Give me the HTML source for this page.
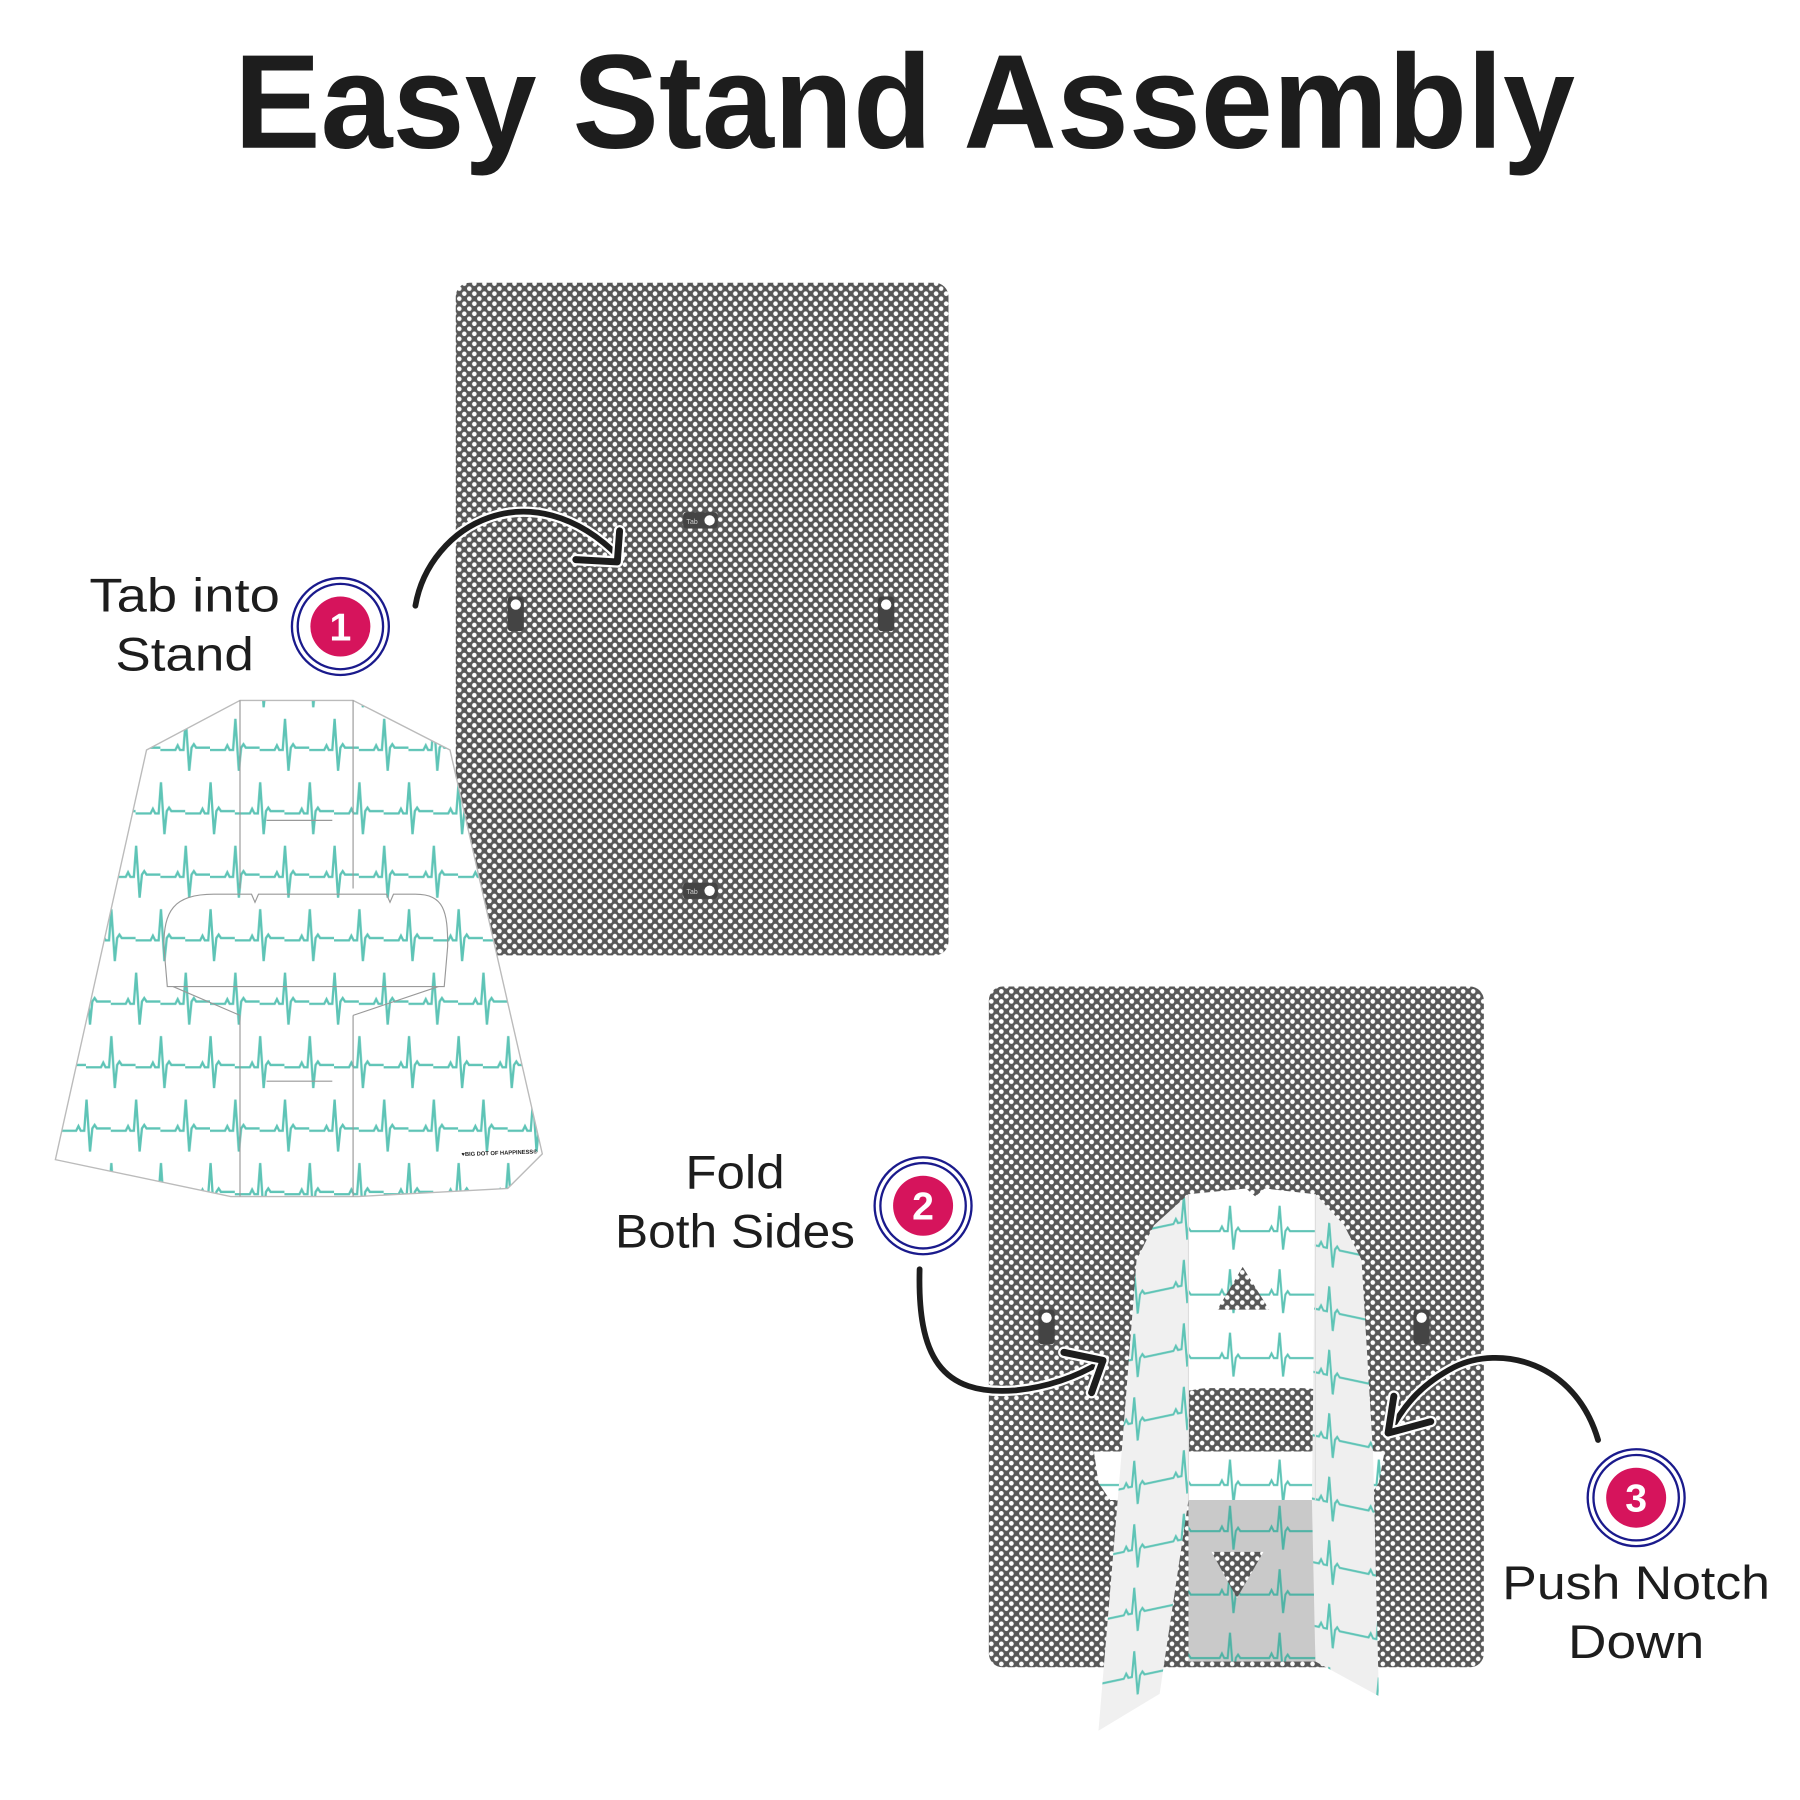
<!DOCTYPE html>
<html><head><meta charset="utf-8"><style>html,body{margin:0;padding:0;background:#fff}svg{display:block}</style></head>
<body>
<svg width="1800" height="1800" viewBox="0 0 1560 1560" xmlns="http://www.w3.org/2000/svg">
<defs>
<pattern id="dots" width="8.7" height="8.7" patternUnits="userSpaceOnUse">
<rect width="8.7" height="8.7" fill="#585858"/>
<circle cx="2.2" cy="2.2" r="2.0" fill="#fff"/>
<circle cx="6.55" cy="6.55" r="2.0" fill="#fff"/>
</pattern>
<pattern id="ecg" width="43" height="110" patternUnits="userSpaceOnUse" x="10" y="620">
<rect width="43" height="110" fill="#fff"/>
<path id="beat" d="M0 30 H13 l2 -4 l2 4 h3 l2 -27 l3 45 l2 -20 l2 -3 l2 3 H43" fill="none" stroke="#5ec4b6" stroke-width="2"/>
<use href="#beat" transform="translate(21.5 55)"/>
<use href="#beat" transform="translate(-21.5 55)"/>
</pattern>
<pattern id="ecg2" width="43" height="55" patternUnits="userSpaceOnUse" x="960" y="1030" patternTransform="skewY(-12)">
<rect width="43" height="55" fill="#f0f0f0"/>
<path d="M0 27 H14 l2 -4 l2 4 h3 l2 -22 l3 38 l2 -16 l2 -3 l2 3 H43" fill="none" stroke="#5ec4b6" stroke-width="1.8"/>
</pattern>
<pattern id="ecg3" width="43" height="55" patternUnits="userSpaceOnUse" x="1000" y="1030" patternTransform="skewY(12)">
<rect width="43" height="55" fill="#efefef"/>
<path d="M0 27 H14 l2 -4 l2 4 h3 l2 -22 l3 38 l2 -16 l2 -3 l2 3 H43" fill="none" stroke="#5ec4b6" stroke-width="1.8"/>
</pattern>
<pattern id="ecg4" width="43" height="55" patternUnits="userSpaceOnUse" x="1000" y="1040">
<rect width="43" height="55" fill="#fff"/>
<path d="M0 27 H14 l2 -4 l2 4 h3 l2 -22 l3 38 l2 -16 l2 -3 l2 3 H43" fill="none" stroke="#5ec4b6" stroke-width="1.8"/>
</pattern>
<pattern id="ecg5" width="43" height="55" patternUnits="userSpaceOnUse" x="1000" y="1300">
<rect width="43" height="55" fill="#c9c9c9"/>
<path d="M0 27 H14 l2 -4 l2 4 h3 l2 -22 l3 38 l2 -16 l2 -3 l2 3 H43" fill="none" stroke="#4fb3a5" stroke-width="1.8"/>
</pattern>
</defs>

<text x="203" y="128" font-family="Liberation Sans, sans-serif" font-weight="700" font-size="116" fill="#1d1d1d" textLength="1162" lengthAdjust="spacingAndGlyphs">Easy Stand Assembly</text>

<!-- top board -->
<rect x="395" y="245" width="427" height="583" rx="12" fill="url(#dots)"/>
<g font-family="Liberation Sans, sans-serif" font-size="6" fill="#ccc">
<rect x="592" y="444" width="30" height="14" rx="3" fill="#444"/><text x="595" y="454">Tab</text><circle cx="615" cy="451" r="4.5" fill="#fff"/>
<rect x="592" y="765" width="30" height="14" rx="3" fill="#444"/><text x="595" y="775">Tab</text><circle cx="615" cy="772" r="4.5" fill="#fff"/>
<rect x="440" y="517" width="14" height="30" rx="3" fill="#444"/><circle cx="447" cy="524" r="4.5" fill="#fff"/>
<rect x="761" y="517" width="14" height="30" rx="3" fill="#444"/><circle cx="768" cy="524" r="4.5" fill="#fff"/>
</g>

<!-- arrow 1 -->
<path d="M360 525 C 372 455, 460 405, 537 483" fill="none" stroke="#fff" stroke-width="9" stroke-linecap="round"/>
<path d="M360 525 C 372 455, 460 405, 537 483" fill="none" stroke="#1d1d1d" stroke-width="5" stroke-linecap="round"/>
<path d="M537 460 L535 487 L499 485" fill="none" stroke="#fff" stroke-width="10" stroke-linecap="round" stroke-linejoin="round"/>
<path d="M537 460 L535 487 L499 485" fill="none" stroke="#1d1d1d" stroke-width="6" stroke-linecap="round" stroke-linejoin="round"/>

<!-- left flat stand -->
<polygon points="127,650 208,607 306,607 390,650 470,1000 440,1030 310,1037 200,1037 48,1005" fill="url(#ecg)" stroke="#bbb" stroke-width="1.2"/>
<g fill="none" stroke="#999" stroke-width="1">
<path d="M208 607 V770 M306 607 V770 M208 880 V1037 M306 880 V1037"/>
<path d="M145 855 L142 820 C142 790 150 775 185 775 L218 775 L221 782 L224 775 L335 775 L338 782 L341 775 L360 775 C385 775 388 790 388 820 L385 855 Z"/>
<path d="M150 855 L208 880 M380 855 L306 880"/>
<path d="M231 711 H288 M231 937 H288"/>
</g>
<text x="400" y="1002" font-family="Liberation Sans, sans-serif" font-size="5" fill="#222" font-weight="700" transform="rotate(-2 400 1002)">♥BIG DOT OF HAPPINESS®</text>

<!-- bottom board -->
<rect x="857" y="855" width="429" height="590" rx="12" fill="url(#dots)"/>
<g>
<rect x="900" y="1135" width="14" height="30" rx="3" fill="#444"/><circle cx="907" cy="1142" r="4.5" fill="#fff"/>
<rect x="1225" y="1135" width="14" height="30" rx="3" fill="#444"/><circle cx="1232" cy="1142" r="4.5" fill="#fff"/>
</g>

<!-- 3D stand -->
<polygon points="1030,1035 1080,1030 1088,1037 1096,1030 1140,1035 1140,1205 1030,1205" fill="url(#ecg4)"/>
<polygon points="1055,1135 1077,1098 1100,1135" fill="url(#dots)"/>
<path d="M1000 1258 C1005 1215 1020 1203 1050 1203 L1125 1203 C1160 1203 1168 1215 1172 1258 Z" fill="url(#dots)"/>
<rect x="1030" y="1300" width="110" height="140" fill="url(#ecg5)"/>
<polygon points="1050,1345 1095,1345 1072,1385" fill="url(#dots)"/>
<polygon points="948,1258 1200,1258 1195,1285 1185,1300 962,1300 952,1285" fill="url(#ecg4)"/>
<polygon points="1030,1035 1000,1062 985,1092 972,1260 952,1500 1005,1468 1030,1300" fill="url(#ecg2)"/>
<polygon points="1140,1035 1165,1062 1180,1092 1190,1260 1195,1470 1140,1440 1137,1300" fill="url(#ecg3)"/>
<line x1="1030" y1="1035" x2="1030" y2="1300" stroke="#ddd" stroke-width="1"/>
<line x1="1140" y1="1035" x2="1140" y2="1300" stroke="#ddd" stroke-width="1"/>

<!-- arrow 2 -->
<path d="M797 1100 C 795 1175, 815 1210, 880 1205 C 910 1202, 935 1192, 955 1180" fill="none" stroke="#fff" stroke-width="9" stroke-linecap="round"/>
<path d="M797 1100 C 795 1175, 815 1210, 880 1205 C 910 1202, 935 1192, 955 1180" fill="none" stroke="#1d1d1d" stroke-width="5" stroke-linecap="round"/>
<path d="M922 1172 L956 1179 L946 1207" fill="none" stroke="#fff" stroke-width="10" stroke-linecap="round" stroke-linejoin="round"/>
<path d="M922 1172 L956 1179 L946 1207" fill="none" stroke="#1d1d1d" stroke-width="6" stroke-linecap="round" stroke-linejoin="round"/>

<!-- arrow 3 -->
<path d="M1385 1248 C 1365 1180, 1300 1165, 1260 1185 C 1235 1198, 1218 1215, 1205 1240" fill="none" stroke="#fff" stroke-width="9" stroke-linecap="round"/>
<path d="M1385 1248 C 1365 1180, 1300 1165, 1260 1185 C 1235 1198, 1218 1215, 1205 1240" fill="none" stroke="#1d1d1d" stroke-width="5" stroke-linecap="round"/>
<path d="M1208 1210 L1203 1242 L1240 1232" fill="none" stroke="#fff" stroke-width="10" stroke-linecap="round" stroke-linejoin="round"/>
<path d="M1208 1210 L1203 1242 L1240 1232" fill="none" stroke="#1d1d1d" stroke-width="6" stroke-linecap="round" stroke-linejoin="round"/>

<!-- badges -->
<g font-family="Liberation Sans, sans-serif" font-weight="700" font-size="34" fill="#fff" text-anchor="middle">
<circle cx="295" cy="543" r="42" fill="#fff" stroke="#1a1a8c" stroke-width="2"/><circle cx="295" cy="543" r="37" fill="none" stroke="#1a1a8c" stroke-width="2"/><circle cx="295" cy="543" r="26" fill="#d6145c"/><text x="295" y="555">1</text>
<circle cx="800" cy="1045" r="42" fill="#fff" stroke="#1a1a8c" stroke-width="2"/><circle cx="800" cy="1045" r="37" fill="none" stroke="#1a1a8c" stroke-width="2"/><circle cx="800" cy="1045" r="26" fill="#d6145c"/><text x="800" y="1057">2</text>
<circle cx="1418" cy="1298" r="42" fill="#fff" stroke="#1a1a8c" stroke-width="2"/><circle cx="1418" cy="1298" r="37" fill="none" stroke="#1a1a8c" stroke-width="2"/><circle cx="1418" cy="1298" r="26" fill="#d6145c"/><text x="1418" y="1310">3</text>
</g>

<!-- labels -->
<g font-family="Liberation Sans, sans-serif" font-size="41" fill="#1d1d1d" text-anchor="middle">
<text x="160" y="530" textLength="165" lengthAdjust="spacingAndGlyphs">Tab into</text>
<text x="160" y="581" textLength="120" lengthAdjust="spacingAndGlyphs">Stand</text>
<text x="637" y="1030" textLength="86" lengthAdjust="spacingAndGlyphs">Fold</text>
<text x="637" y="1081" textLength="208" lengthAdjust="spacingAndGlyphs">Both Sides</text>
<text x="1418" y="1386" textLength="232" lengthAdjust="spacingAndGlyphs">Push Notch</text>
<text x="1418" y="1437" textLength="118" lengthAdjust="spacingAndGlyphs">Down</text>
</g>
</svg>
</body></html>
